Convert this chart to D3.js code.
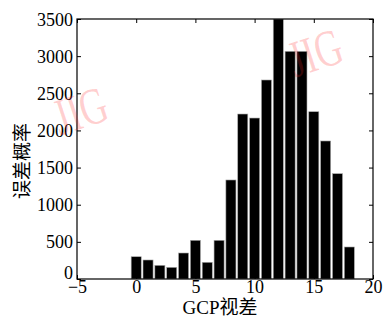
<!DOCTYPE html>
<html>
<head>
<meta charset="utf-8">
<script src="https://cdn.jsdelivr.net/npm/d3@7"></script>
<style>
  body { margin: 0; background: #fff; }
  svg { display: block; }
</style>
</head>
<body>
<div id="chart"></div>
<script>
var disparity = [0, 1, 2, 3, 4, 5, 6, 7, 8, 9, 10, 11, 12, 13, 14, 15, 16, 17, 18]
var counts = [300, 256, 184, 157, 350, 521, 225, 521, 1333, 2221, 2167, 2679, 3500, 3065, 3065, 2252, 1858, 1418, 431]
var xTicks = [-5, 0, 5, 10, 15, 20]
var yTicks = [0, 500, 1000, 1500, 2000, 2500, 3000, 3500]

var W = 383
var H = 325
var margin = { top: 19, right: 10, bottom: 46, left: 77 }
var width = W - margin.left - margin.right
var height = H - margin.top - margin.bottom

var svg = d3.select('#chart').append('svg')
  .attr('width', W)
  .attr('height', H)

var g = svg.append('g')
  .attr('transform', 'translate(' + margin.left + ',' + margin.top + ')')

var x = d3.scaleLinear().domain([-5, 20]).range([0, width])
var y = d3.scaleLinear().domain([0, 3500]).range([height, 0])

var barW = 0.85

g.append('clipPath').attr('id', 'clip')
  .append('rect').attr('width', width).attr('height', height)

// bars
g.append('g').attr('clip-path', 'url(#clip)')
  .selectAll('rect')
  .data(disparity)
  .enter().append('rect')
  .attr('x', function (d) { return x(d - barW / 2) })
  .attr('width', x(barW) - x(0))
  .attr('y', function (d, i) { return y(counts[i]) })
  .attr('height', function (d, i) { return height - y(counts[i]) })
  .attr('fill', '#000')
  .attr('stroke', '#aaa')
  .attr('stroke-width', 0.6)

// ticks, inward on all four sides
var tickLen = 4
function fmt (d) { return d < 0 ? '\u2212' + Math.abs(d) : String(d) }

var axB = d3.axisBottom(x).tickValues(xTicks).tickSize(-tickLen).tickPadding(1).tickFormat(fmt)
var axT = d3.axisTop(x).tickValues(xTicks).tickSize(-tickLen).tickFormat('')
var axL = d3.axisLeft(y).tickValues(yTicks).tickSize(-tickLen).tickPadding(4).tickFormat(fmt)
var axR = d3.axisRight(y).tickValues(yTicks).tickSize(-tickLen).tickFormat('')

function style (sel) {
  sel.attr('font-family', null).attr('font-size', null)
  sel.select('.domain').remove()
  sel.selectAll('line').attr('stroke', '#000').attr('stroke-width', 1)
  sel.selectAll('text')
    .attr('fill', '#000')
    .style('font-family', '"Liberation Serif", "DejaVu Serif", serif')
    .style('font-size', '18px')
}

g.append('g').attr('transform', 'translate(0,' + height + ')').call(axB).call(style)
  .selectAll('text').attr('dy', '0.71em')
g.append('g').call(axT).call(style)
g.append('g').call(axL).call(style)
  .selectAll('text').attr('dy', function (d) { return d === 0 ? '-0.02em' : '0.34em' })
g.append('g').attr('transform', 'translate(' + width + ',0)').call(axR).call(style)

// frame
g.append('rect')
  .attr('width', width).attr('height', height)
  .attr('fill', 'none').attr('stroke', '#000').attr('stroke-width', 1.2)

// axis labels
svg.append('text')
  .attr('x', margin.left + width / 2 - 5)
  .attr('y', 314)
  .attr('text-anchor', 'middle')
  .style('font-family', '"Liberation Serif", "Noto Sans CJK SC", serif')
  .style('font-size', '19px')
  .text('GCP视差')

svg.append('text')
  .attr('transform', 'translate(29,161) rotate(-90)')
  .attr('text-anchor', 'middle')
  .style('font-family', '"Noto Sans CJK SC", sans-serif')
  .style('font-size', '19px')
  .text('误差概率')

// watermarks
var marks = [[80, 110], [315, 52]]
svg.selectAll('.wm').data(marks).enter().append('text')
  .attr('class', 'wm')
  .attr('transform', function (d) { return 'translate(' + d[0] + ',' + d[1] + ') rotate(-18) scale(0.72,1)' })
  .attr('text-anchor', 'middle')
  .attr('dy', '0.35em')
  .style('font-family', '"Liberation Serif", serif')
  .style('font-size', '52px')
  .attr('fill', 'rgba(255,40,40,0.22)')
  .text('JIG')
</script>
</body>
</html>
